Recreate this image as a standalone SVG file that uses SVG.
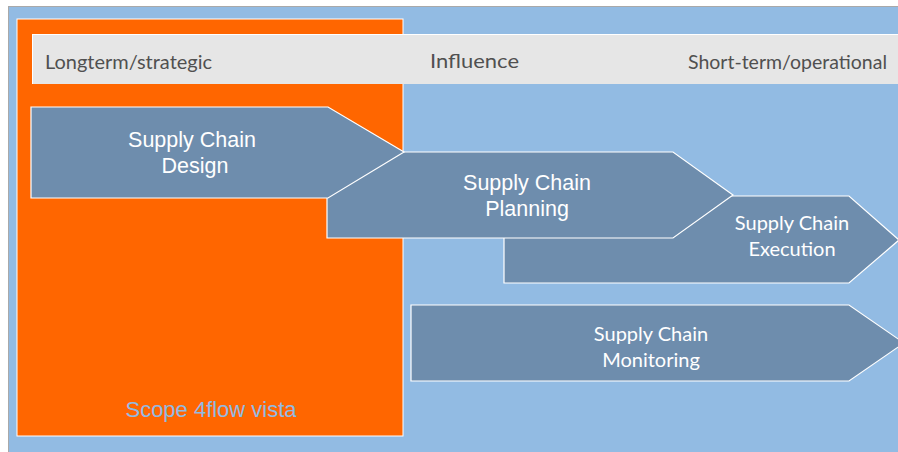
<svg xmlns="http://www.w3.org/2000/svg" width="898" height="452" viewBox="0 0 898 452">
<style>
.arrow{fill:#6e8dad;stroke:#ffffff;stroke-width:1.2}
.t1{font-family:"Liberation Sans",Arial,sans-serif;font-size:21.5px;fill:#ffffff;text-anchor:middle}
.t2{font-family:Lato,"Liberation Sans",sans-serif;font-size:20px;fill:#ffffff;text-anchor:middle}
.hdr{font-family:Lato,"Liberation Sans",sans-serif;font-size:20px;fill:#505050}
</style>
<rect x="0" y="0" width="898" height="452" fill="#ffffff"/>
<rect x="8.5" y="6.5" width="895" height="450" fill="#92bbe3" stroke="#a9a9a9" stroke-width="1"/>
<g id="scope">
<rect x="17" y="19" width="386" height="417" fill="#ff6600" stroke="#ffffff" stroke-width="1"/>
<text x="125.5" y="416.5" font-family="'Liberation Sans Narrow','Liberation Sans',sans-serif" font-size="22" fill="#92bbe3" textLength="171" lengthAdjust="spacingAndGlyphs">Scope 4flow vista</text>
</g>
<g id="influence-band">
<rect x="32" y="34" width="870" height="50" fill="#e6e6e6"/>
<line x1="32" y1="34.5" x2="898" y2="34.5" stroke="#ffffff" stroke-width="1"/>
<line x1="32.5" y1="34" x2="32.5" y2="84" stroke="#ffffff" stroke-width="1"/>
<text class="hdr" x="45" y="69" textLength="167" lengthAdjust="spacingAndGlyphs">Longterm/strategic</text>
<text class="hdr" x="430" y="68" font-size="23" textLength="89" lengthAdjust="spacingAndGlyphs">Influence</text>
<text class="hdr" x="688" y="69" textLength="199" lengthAdjust="spacingAndGlyphs">Short-term/operational</text>
</g>
<g id="monitoring">
<polygon class="arrow" points="411,305 849,305 904,343 849,381 411,381"/>
<text class="t2" x="651" y="341">Supply Chain</text>
<text class="t2" x="651" y="367">Monitoring</text>
</g>
<g id="execution">
<polygon class="arrow" points="504,196 849,196 899,240 849,283 504,283"/>
<text class="t2" x="792" y="230">Supply Chain</text>
<text class="t2" x="792" y="256">Execution</text>
</g>
<g id="planning">
<polygon class="arrow" points="327,152 673,152 733,195 673,238 327,238"/>
<text class="t1" x="527" y="190">Supply Chain</text>
<text class="t1" x="527" y="216">Planning</text>
</g>
<g id="design">
<polygon class="arrow" points="31,107 328,107 404,152 328,198 31,198"/>
<text class="t1" x="192" y="147">Supply Chain</text>
<text class="t1" x="195" y="173">Design</text>
</g>
<g id="connectors"></g>
</svg>
